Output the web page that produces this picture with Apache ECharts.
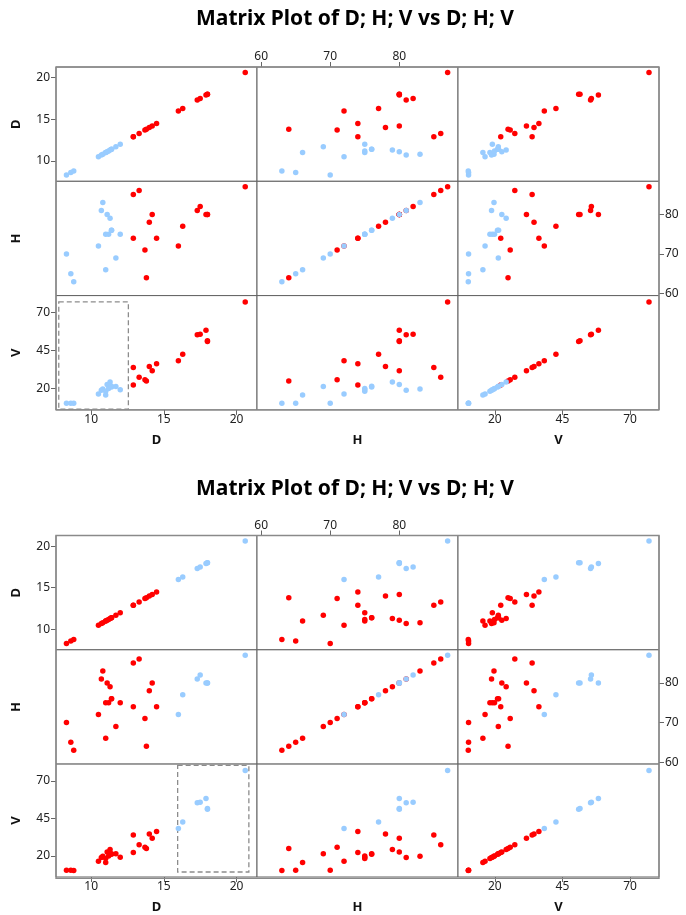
<!DOCTYPE html>
<html>
<head>
<meta charset="utf-8">
<script src="https://cdn.jsdelivr.net/npm/echarts@6/dist/echarts.min.js"></script>
<style>
  html, body { margin: 0; padding: 0; background: #fff; }
  #chart { width: 686px; height: 915px; }
</style>
</head>
<body>
<div id="chart"></div>
<script>
// Tree measurements: diameter (D), height (H), volume (V)
const D = [8.3, 8.6, 8.8, 10.5, 10.7, 10.8, 11.0, 11.0, 11.1, 11.2, 11.3, 11.4, 11.4, 11.7, 12.0,
           12.9, 12.9, 13.3, 13.7, 13.8, 14.0, 14.2, 14.5, 16.0, 16.3, 17.3, 17.5, 17.9, 18.0, 18.0, 20.6];
const H = [70, 65, 63, 72, 81, 83, 66, 75, 80, 75, 79, 76, 76, 69, 75,
           74, 85, 86, 71, 64, 78, 80, 74, 72, 77, 81, 82, 80, 80, 80, 87];
const V = [10.3, 10.3, 10.2, 16.4, 18.8, 19.7, 15.6, 18.2, 22.6, 19.9, 24.2, 21.0, 21.4, 21.3, 19.1,
           22.2, 33.8, 27.4, 25.7, 24.9, 34.5, 31.7, 36.3, 38.3, 42.6, 55.4, 55.7, 58.3, 51.5, 51.0, 77.0];

const varNames = ['D', 'H', 'V'];
const ticksD = [10, 15, 20];
const ticksH = [60, 70, 80];
const ticksV = [20, 45, 70];

// Brushed regions (in D / V data units) drawn on the V-vs-D panel of each matrix
const brushTopD = [7.77, 12.56];
const brushTopV = [6.3, 77.1];
const brushBottomD = [15.95, 20.85];
const brushBottomV = [9.2, 80.3];

const values = { D: D, H: H, V: V };
const ticks = { D: ticksD, H: ticksH, V: ticksV };
// axis extents (horizontal / vertical)
const xRange = { D: [7.58, 21.41], H: [59.4, 88.5], V: [6.4, 80.7] };
const yRange = { D: [7.55, 21.27], H: [59.5, 88.35], V: [5.85, 81.2] };

const RED = '#ff0000';
const BLUE = '#99ccff';
const FONT = '"Noto Sans", "DejaVu Sans", sans-serif';

const colLeft = [56, 257, 458];
const colW = 201;
const rowH = 114.3;
const matrixTop = [67, 535.5];
const titleY = [19, 489];

const matrices = [
  { brushD: brushTopD, brushV: brushTopV },
  { brushD: brushBottomD, brushV: brushBottomV }
];

const grids = [], xAxes = [], yAxes = [], series = [], graphics = [];

matrices.forEach(function (mx, m) {
  const inBrush = D.map(function (d, i) {
    return d >= mx.brushD[0] && d <= mx.brushD[1] && V[i] >= mx.brushV[0] && V[i] <= mx.brushV[1];
  });
  for (let r = 0; r < 3; r++) {
    for (let c = 0; c < 3; c++) {
      const gi = grids.length;
      const xv = varNames[c], yv = varNames[r];
      grids.push({
        left: colLeft[c], top: matrixTop[m] + r * rowH, width: colW, height: rowH,
        show: true, borderColor: '#606060', borderWidth: 1, backgroundColor: '#fff'
      });

      // horizontal axis
      let xShowLabels = false, xPos = 'bottom', xName = '';
      if (r === 2 && c !== 1) { xShowLabels = true; }
      if (r === 0 && c === 1) { xShowLabels = true; xPos = 'top'; }
      if (r === 2) { xName = xv; }
      xAxes.push({
        type: 'value', gridIndex: gi, position: xPos,
        min: xRange[xv][0], max: xRange[xv][1],
        axisLine: { show: false }, splitLine: { show: false },
        axisTick: { show: xShowLabels, customValues: ticks[xv], length: 5, lineStyle: { color: '#666' } },
        axisLabel: { show: xShowLabels, customValues: ticks[xv], margin: 4,
                     fontFamily: FONT, fontSize: 12, color: '#222' },
        name: xName, nameLocation: 'middle', nameGap: 24,
        nameTextStyle: { fontFamily: FONT, fontSize: 13, fontWeight: 'bold', color: '#111' }
      });

      // vertical axis
      let yShowLabels = false, yPos = 'left', yName = '';
      if (c === 0 && r !== 1) { yShowLabels = true; }
      if (c === 2 && r === 1) { yShowLabels = true; yPos = 'right'; }
      if (c === 0) { yName = yv; }
      yAxes.push({
        type: 'value', gridIndex: gi, position: yPos,
        min: yRange[yv][0], max: yRange[yv][1],
        axisLine: { show: false }, splitLine: { show: false },
        axisTick: { show: yShowLabels, customValues: ticks[yv], length: 5, lineStyle: { color: '#666' } },
        axisLabel: { show: yShowLabels, customValues: ticks[yv], margin: 6,
                     fontFamily: FONT, fontSize: 12, color: '#222' },
        name: yName, nameLocation: 'middle', nameGap: 33,
        nameTextStyle: { fontFamily: FONT, fontSize: 13, fontWeight: 'bold', color: '#111' }
      });

      const xs = values[xv], ys = values[yv];
      const redPts = [], bluePts = [];
      for (let i = 0; i < D.length; i++) {
        (inBrush[i] ? bluePts : redPts).push([xs[i], ys[i]]);
      }
      const redSeries = {
        type: 'scatter', xAxisIndex: gi, yAxisIndex: gi, data: redPts,
        symbolSize: 5.5, itemStyle: { color: RED, opacity: 1 }, silent: true, z: 3
      };
      if (r === 2 && c === 0) {
        redSeries.markArea = {
          silent: true,
          itemStyle: { color: 'rgba(0,0,0,0)', borderColor: '#8c8c8c', borderWidth: 1.3, borderType: [5, 3] },
          data: [[{ xAxis: mx.brushD[0], yAxis: mx.brushV[1] }, { xAxis: mx.brushD[1], yAxis: mx.brushV[0] }]]
        };
      }
      series.push(redSeries);
      series.push({
        type: 'scatter', xAxisIndex: gi, yAxisIndex: gi, data: bluePts,
        symbolSize: 5.5, itemStyle: { color: BLUE, opacity: 1 }, silent: true, z: 4
      });
    }
  }

  graphics.push({
    type: 'text', x: 355, y: titleY[m],
    style: { text: 'Matrix Plot of D; H; V vs D; H; V', font: 'bold 21px ' + FONT,
             fill: '#000', align: 'center', verticalAlign: 'middle' }
  });
  // outer frame of the matrix
  graphics.push({
    type: 'rect', z: 100,
    shape: { x: colLeft[0], y: matrixTop[m], width: colW * 3, height: rowH * 3 },
    style: { fill: null, stroke: '#8a8a8a', lineWidth: 1.4 }
  });
});

const chart = echarts.init(document.getElementById('chart'), null, { renderer: 'canvas' });
chart.setOption({
  animation: false,
  backgroundColor: '#fff',
  grid: grids,
  xAxis: xAxes,
  yAxis: yAxes,
  series: series,
  graphic: graphics
});
</script>
</body>
</html>
